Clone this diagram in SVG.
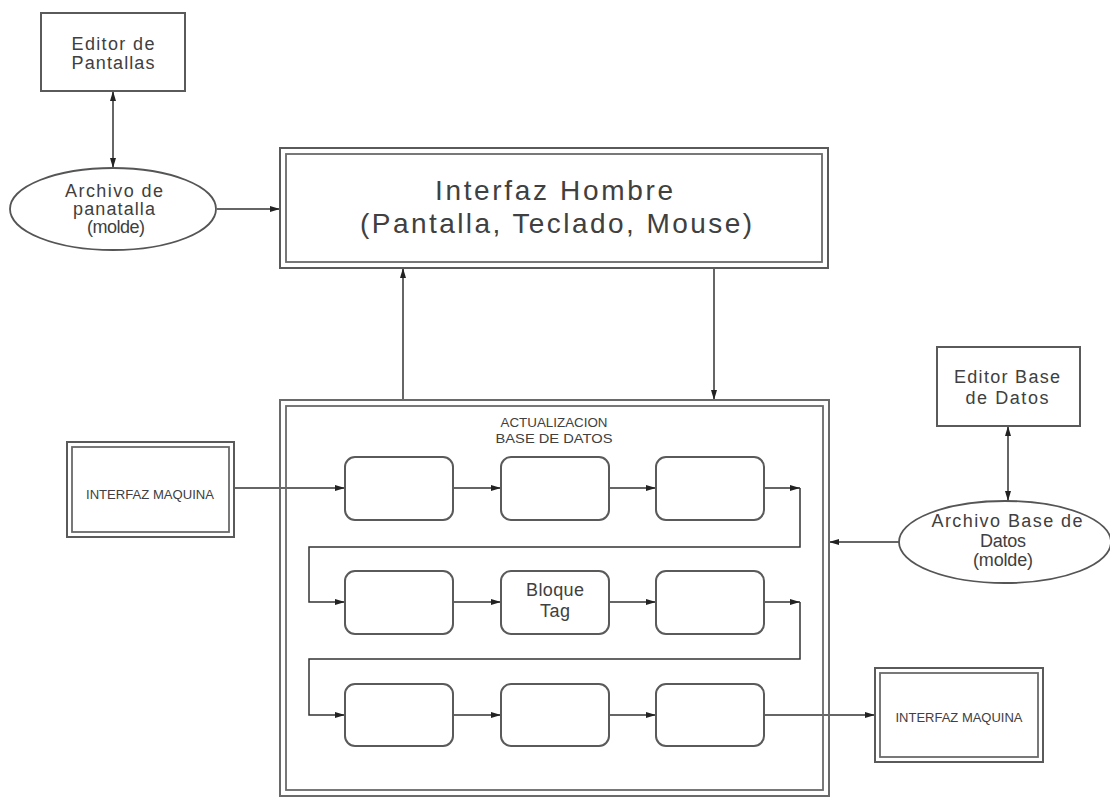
<svg xmlns="http://www.w3.org/2000/svg" width="1110" height="798" viewBox="0 0 1110 798">
  <style>
    .bg { fill: #ffffff; }
    .box { fill: #ffffff; stroke: #5a5a5a; stroke-width: 2; }
    .inner { fill: none; stroke: #6a6a6a; stroke-width: 1.8; }
    .step { fill: #ffffff; stroke: #5a5a5a; stroke-width: 2; }
    .ell { fill: #ffffff; stroke: #555; stroke-width: 1.8; }
    .wire { fill: none; stroke: #333; stroke-width: 1.5; }
    .t { font-family: "Liberation Sans", "DejaVu Sans", sans-serif; fill: #404040; text-anchor: middle; }
    .big { font-size: 28px; }
    .mid { font-size: 18px; }
    .small { font-size: 13px; }
  </style>
  <defs>
    <marker id="ah" viewBox="0 0 10 6" refX="10" refY="3" markerWidth="10" markerHeight="6" markerUnits="userSpaceOnUse" orient="auto-start-reverse">
      <path d="M0,0 L10,3 L0,6 z" fill="#222"/>
    </marker>
  </defs>
  <rect class="bg" width="1110" height="798"/>

  <!-- connectors -->
  <g id="connectors">
    <line class="wire" x1="113" y1="91" x2="113" y2="168" marker-start="url(#ah)" marker-end="url(#ah)"/>
    <line class="wire" x1="217" y1="209" x2="280" y2="209" marker-end="url(#ah)"/>
    <line class="wire" x1="403" y1="400" x2="403" y2="268" marker-end="url(#ah)"/>
    <line class="wire" x1="714" y1="268" x2="714" y2="400" marker-end="url(#ah)"/>
    <line class="wire" x1="1008" y1="426" x2="1008" y2="501" marker-start="url(#ah)" marker-end="url(#ah)"/>
    <line class="wire" x1="899" y1="542" x2="829" y2="542" marker-end="url(#ah)"/>
    <line class="wire" x1="234" y1="488" x2="345" y2="488" marker-end="url(#ah)"/>
    <!-- row 1 -->
    <line class="wire" x1="453" y1="488" x2="501" y2="488" marker-end="url(#ah)"/>
    <line class="wire" x1="609" y1="488" x2="656" y2="488" marker-end="url(#ah)"/>
    <line class="wire" x1="764" y1="488" x2="800" y2="488" marker-end="url(#ah)"/>
    <polyline class="wire" points="800,488 800,547 309,547 309,602 345,602" marker-end="url(#ah)"/>
    <!-- row 2 -->
    <line class="wire" x1="453" y1="602" x2="501" y2="602" marker-end="url(#ah)"/>
    <line class="wire" x1="609" y1="602" x2="656" y2="602" marker-end="url(#ah)"/>
    <line class="wire" x1="764" y1="602" x2="800" y2="602" marker-end="url(#ah)"/>
    <polyline class="wire" points="800,602 800,659 309,659 309,715 345,715" marker-end="url(#ah)"/>
    <!-- row 3 -->
    <line class="wire" x1="453" y1="715" x2="501" y2="715" marker-end="url(#ah)"/>
    <line class="wire" x1="609" y1="715" x2="656" y2="715" marker-end="url(#ah)"/>
    <line class="wire" x1="764" y1="715" x2="875" y2="715" marker-end="url(#ah)"/>
  </g>

  <g id="editor-pantallas">
    <rect class="box" x="41" y="13" width="144" height="78"/>
    <text class="t mid" x="113" y="50" textLength="83" lengthAdjust="spacing">Editor de</text>
    <text class="t mid" x="113" y="69" textLength="83" lengthAdjust="spacing">Pantallas</text>
  </g>

  <g id="archivo-pantalla">
    <ellipse class="ell" cx="113" cy="209" rx="103" ry="41"/>
    <text class="t mid" x="114" y="197" textLength="98" lengthAdjust="spacing">Archivo de</text>
    <text class="t mid" x="114" y="215" textLength="82" lengthAdjust="spacing">panatalla</text>
    <text class="t mid" x="116" y="233" textLength="58" lengthAdjust="spacing">(molde)</text>
  </g>

  <g id="interfaz-hombre">
    <rect class="box" x="280" y="148" width="548" height="120"/>
    <rect class="inner" x="286" y="154" width="536" height="108"/>
    <text class="t big" x="554" y="200" textLength="238" lengthAdjust="spacing">Interfaz Hombre</text>
    <text class="t big" x="556" y="233" textLength="392" lengthAdjust="spacing">(Pantalla, Teclado, Mouse)</text>
  </g>

  <g id="actualizacion">
    <rect class="inner" x="280" y="400" width="549" height="396" style="stroke-width:2"/>
    <rect class="inner" x="286" y="406" width="537" height="384"/>
    <text class="t small" x="554" y="427" textLength="107" lengthAdjust="spacingAndGlyphs">ACTUALIZACION</text>
    <text class="t small" x="554" y="443" textLength="117" lengthAdjust="spacingAndGlyphs">BASE DE DATOS</text>
  </g>

  <g id="steps">
    <rect class="step" x="345" y="457" width="108" height="63" rx="10"/>
    <rect class="step" x="501" y="457" width="108" height="63" rx="10"/>
    <rect class="step" x="656" y="457" width="108" height="63" rx="10"/>
    <rect class="step" x="345" y="571" width="108" height="63" rx="10"/>
    <g id="bloque-tag">
      <rect class="step" x="501" y="571" width="108" height="63" rx="10"/>
      <text class="t mid" x="555" y="596" textLength="58" lengthAdjust="spacing">Bloque</text>
      <text class="t mid" x="555" y="617" textLength="30" lengthAdjust="spacing">Tag</text>
    </g>
    <rect class="step" x="656" y="571" width="108" height="63" rx="10"/>
    <rect class="step" x="345" y="684" width="108" height="62" rx="10"/>
    <rect class="step" x="501" y="684" width="108" height="62" rx="10"/>
    <rect class="step" x="656" y="684" width="108" height="62" rx="10"/>
  </g>

  <g id="interfaz-maquina-in">
    <rect class="box" x="67" y="442" width="167" height="95"/>
    <rect class="inner" x="72" y="447" width="157" height="85"/>
    <text class="t small" x="150" y="499" textLength="128" lengthAdjust="spacingAndGlyphs">INTERFAZ MAQUINA</text>
  </g>

  <g id="interfaz-maquina-out">
    <rect class="box" x="875" y="668" width="168" height="94"/>
    <rect class="inner" x="880" y="673" width="158" height="84"/>
    <text class="t small" x="959" y="722" textLength="127" lengthAdjust="spacingAndGlyphs">INTERFAZ MAQUINA</text>
  </g>

  <g id="editor-bd">
    <rect class="box" x="937" y="347" width="143" height="79"/>
    <text class="t mid" x="1007" y="383" textLength="106" lengthAdjust="spacing">Editor Base</text>
    <text class="t mid" x="1007" y="404" textLength="83" lengthAdjust="spacing">de Datos</text>
  </g>

  <g id="archivo-bd">
    <ellipse class="ell" cx="1005" cy="542" rx="106" ry="41"/>
    <text class="t mid" x="1007" y="527" textLength="151" lengthAdjust="spacing">Archivo Base de</text>
    <text class="t mid" x="1003" y="547" textLength="46" lengthAdjust="spacing">Datos</text>
    <text class="t mid" x="1003" y="566" textLength="60" lengthAdjust="spacing">(molde)</text>
  </g>
</svg>
